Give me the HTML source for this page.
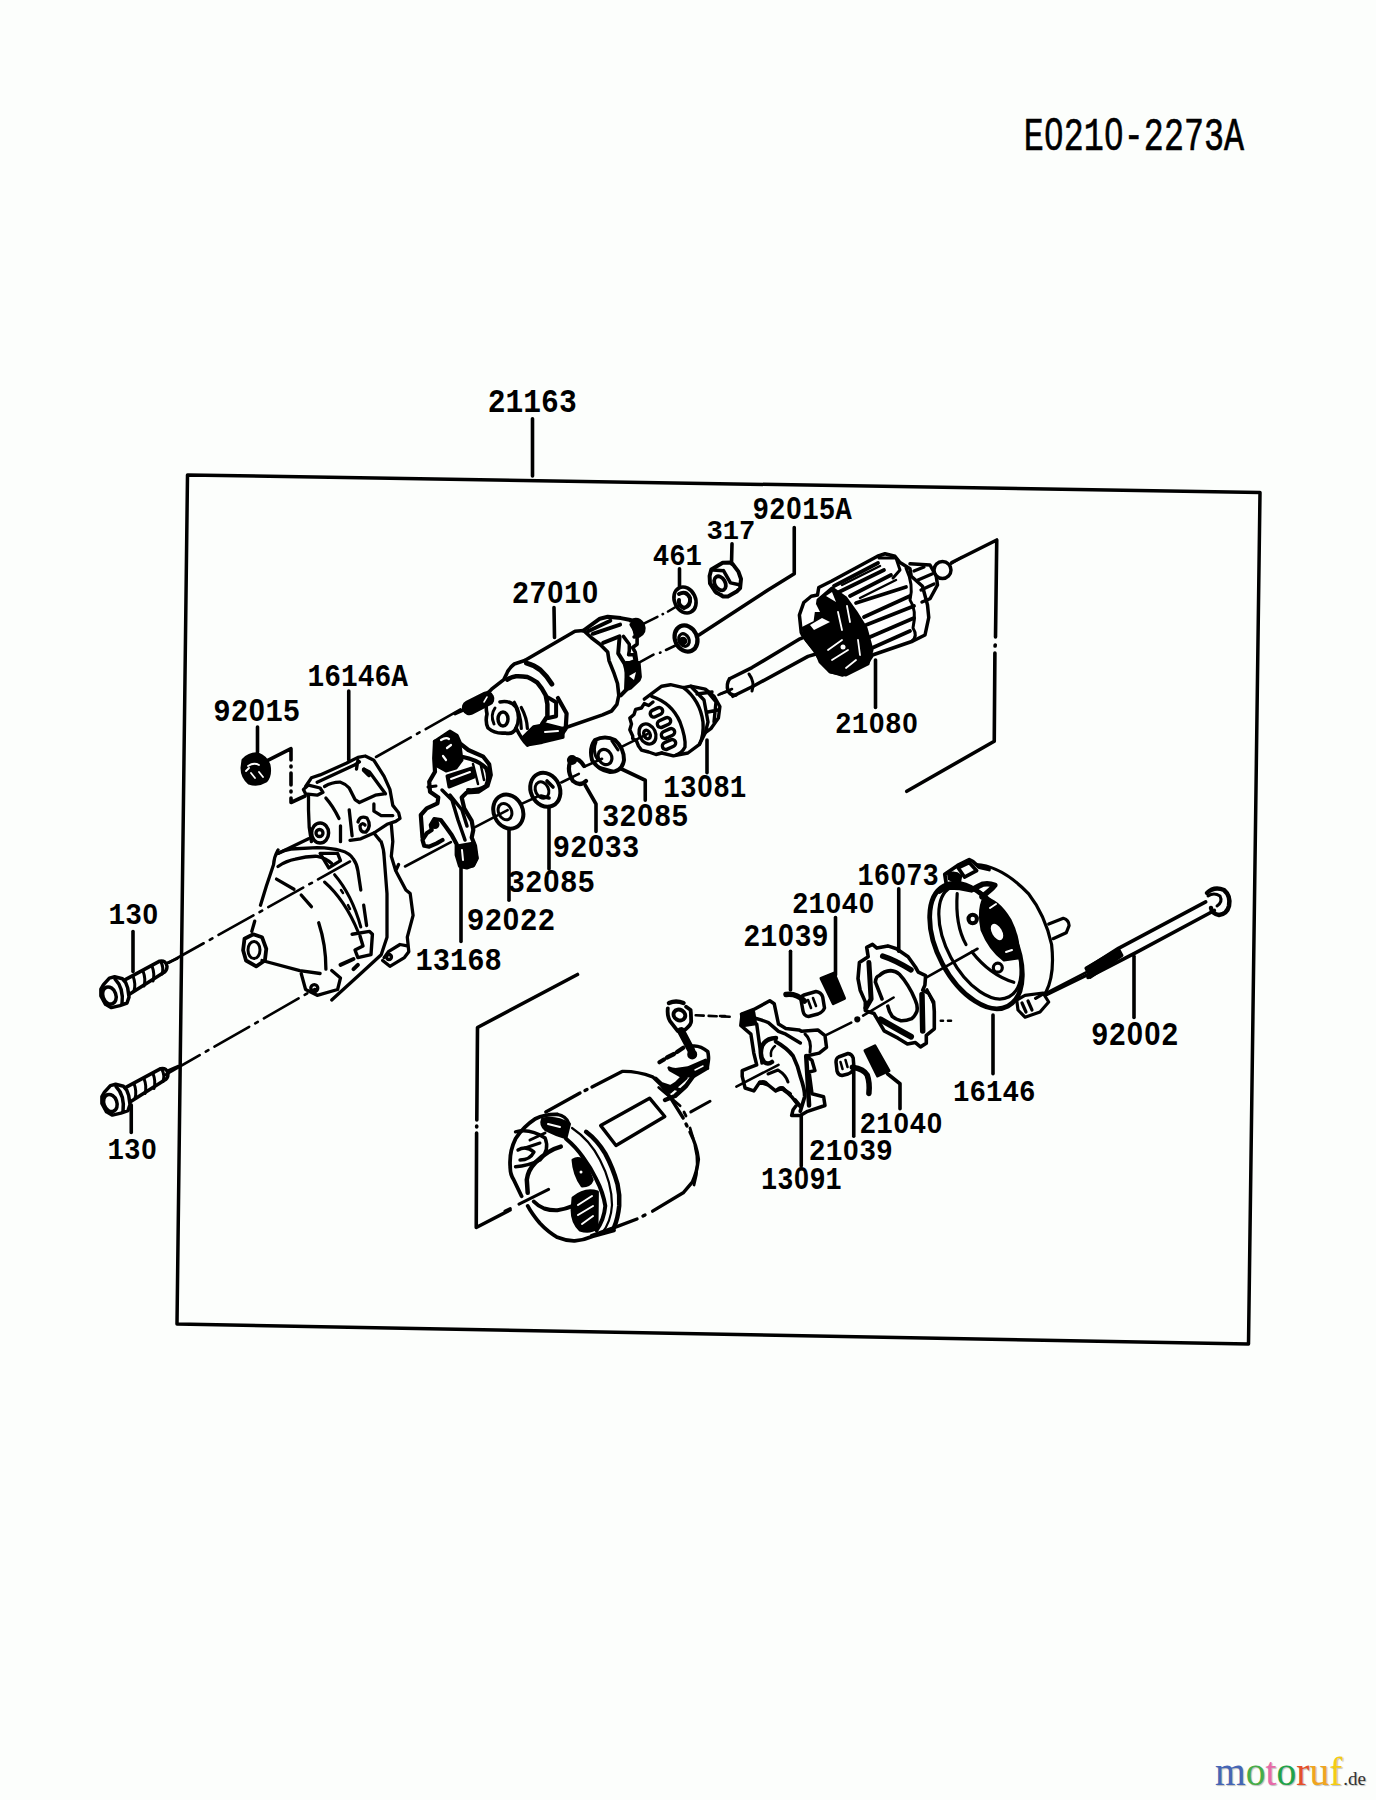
<!DOCTYPE html>
<html><head><meta charset="utf-8"><title>Starter parts diagram</title>
<style>
html,body{margin:0;padding:0;background:#fcfefc;width:1376px;height:1800px;overflow:hidden}
svg{position:absolute;left:0;top:0}
.l{font-family:"Liberation Mono",monospace;font-weight:bold;font-size:100px;fill:#000;stroke:none}
.h{font-family:"Liberation Mono",monospace;font-size:100px;fill:#000;stroke:#000;stroke-width:1.5}
.logo{position:absolute;left:1215px;top:1747px;font-family:"Liberation Serif",serif;font-size:39.5px;line-height:50px;white-space:nowrap;text-shadow:1px 1px 1px rgba(0,0,0,.25)}
.logo .de{font-size:19px;color:#333;margin-left:1px}
</style></head><body>
<svg width="1376" height="1800" viewBox="0 0 1376 1800">
<g fill="none" stroke="#000" stroke-width="3.6" stroke-linecap="round" stroke-linejoin="round">
<!-- frame -->
<path d="M187.5 475 L1260 492.5 L1248.5 1344 L177 1324 Z" stroke-width="3.5"/>
<!-- leaders -->
<path d="M532.5 418.75 V476"/>
<path d="M554 607.5 L554.5 637.5"/>
<path d="M679.5 568.75 V587.5"/>
<path d="M732 543.75 L731.5 563.75"/>
<path d="M794.25 527.5 V573.75 L768 590 L699 635"/>
<path d="M875.5 660 V707.5"/>
<path d="M348.75 691 V760"/>
<path d="M257.5 727 V752"/>
<path d="M707 740 V772.75"/>
<path d="M621.5 769 L645.25 780.25 V800.25"/>
<path d="M585.25 785.25 L596 804 V831.5"/>
<path d="M549 806.5 V869"/>
<path d="M509 829 V900.25"/>
<path d="M461 864 V941.5"/>
<path d="M133 931.5 V971.5"/>
<path d="M131.25 1105 V1132.5"/>
<path d="M898.75 888.75 V951.25"/>
<path d="M835.5 917.5 V975"/>
<path d="M790.5 951.25 V990"/>
<path d="M887.5 1073.75 L900 1083.75 V1108.75"/>
<path d="M853.75 1070 V1136.25"/>
<path d="M993 1015 V1073.75"/>
<path d="M801.25 1115 V1166"/>
<path d="M1134 956.3 V1017.5"/>
<!-- brackets -->
<path d="M951.75 562.5 L996.75 540 L995.5 637 M995.2 645 L995.1 646 M994.9 653 L994.25 741.25 L906.75 791.25"/>
<path d="M577.5 974.5 L477.5 1027.5 L476.8 1120 M476.7 1126 L476.7 1127 M476.6 1133 L476.25 1227.5 L510 1210"/>

<!-- ===== axis dash-dot lines ===== -->
<g stroke-width="2.6">
<path d="M168.75 962.75 L350 861.5" stroke-dasharray="40 7 3 7"/>
<path d="M165 1075 L315 989" stroke-dasharray="40 7 3 7"/>
<path d="M376 757 L466.5 706" stroke-dasharray="40 7 3 7"/>
<path d="M405 866.5 L450.9 842.1"/>
<path d="M474.1 827.6 L507.6 810.1 M522.1 803.6 L536.6 797 M561.3 782.5 L578.8 773.8 M584.6 766.5 L602 758.8 M621 747.2 L647.2 734.1"/>
<path d="M644.3 623.3 L657.4 616.8 M662.6 614.2 L663 614 M668 611.5 L679 605"/>
<path d="M640.4 661.9 L653.5 654.7 M660 652.7 L660.5 652.5 M666 650 L676.5 645"/>
<path d="M718.4 694.9 L730 690.5"/>
<path d="M951.25 563.75 L962 557"/>
<path d="M695.7 1015.3 L730.6 1016.8" stroke-dasharray="8 5"/>
<path d="M736.4 1086.6 L778.5 1064.8" />
<path d="M825 1035.7 L851.2 1022.6 M863.1 1015.7 L893.6 997.5 M927 977.2 L977.5 948.75"/>
<circle cx="857.3" cy="1019.3" r="1.8" fill="#000"/>
<path d="M940.8 1020.8 L943 1020.8 M948 1020.8 L951 1020.8"/>
<path d="M720 1016 L730 1016" stroke-dasharray="5 5"/>
<path d="M1047.3 992.4 L1086.5 972.1"/>
</g>

<!-- ===== 130 bolts ===== -->
<g id="bolt1" stroke-width="3.5">
<path d="M100.9 989.2 L103.5 984.7 L109.4 978.1 L114.6 976.8 L122.5 978.8 L125.7 982.7 L127.7 988 L129 997.1 L127 1003 L119.9 1005.6 L111.4 1007.6 L105.5 1004.3 L100.9 995.8 Z"/>
<ellipse cx="109.4" cy="995.5" rx="6.5" ry="8.8" transform="rotate(-20 109.4 995.5)"/>
<path d="M115 979 Q124 988 122 1004" />
<path d="M124.4 980.1 L159.7 961.1 Q166 960 167 966.4 Q167 971 163 973 L129 994.5"/>
<path d="M133 976 Q136 984 134 991 M143 971 Q146 979 144 986 M152 966 Q155 974 153 981 M161 962 Q164 968 162 974" stroke-width="3"/>
<path d="M167 963 L177.4 958.5" stroke-width="2.5"/>
</g>
<use href="#bolt1" transform="translate(1 107.5)"/>
<!-- ===== nut 92015 ===== -->
<g>
<path d="M243 760 Q250 753 258 754 Q266 757 269 765 Q271 775 266 781 Q258 786 249 783 Q242 777 242 768 Z" fill="#000" stroke-width="3"/>
<path d="M248 766 Q254 762 259 765 M251 773 L255 778 M259 772 L263 777 M246 771 L249 768" stroke="#fff" stroke-width="1.8"/>
<path d="M267.8 760.3 L291 748.7 L291 760 M291 766 L291 767 M291 773 L291 785 M291 791 L291 792 M291 798 L291 802.5 L305 796"/>
</g>

<!-- ===== housing 16146A ===== -->
<g id="housing" stroke-width="3.3">
<path d="M305.6 786.5 L311.4 777.8 L320.1 774.9 L346.3 763.3 L357.9 757.4 L365.2 756 L373.9 760.3 L384.1 776.3 L389.9 789.4 L392.8 805.4 L398.6 812.7 L400 818.5 L395.7 821.4 L387 824.3 L373.9 833 L360.8 838.8 L350 840.3"/>
<path d="M317.2 782.2 L355 764.7 L359.4 761.8 M357.9 760.3 L356.5 769.1"/>
<path d="M324.5 786.5 Q332 782 340.5 782.2 Q346 784 349.2 788 L355 799.6 L359.4 802.5 L375.3 795.2 L384.1 793.8"/>
<path d="M363.7 769.1 L369.5 772 L381.2 788 L385.5 793.8"/>
<path d="M364 770 L369 775" stroke-width="4.5"/>
<path d="M373.9 804 L373.9 811.2 L381.2 815.6 L392.8 815.6"/>
<path d="M303.4 789.4 L308.5 785.1 L320.1 788 L323 792.3 L317.2 795.2 L305.6 793.8 Z"/>
<path d="M308.5 795.2 L308.5 809.8 L309.2 827.2 L311.4 841.7"/>
<path d="M325.9 798.1 Q333 806 339 818.5 M340.5 825.8 L340.5 841.7"/>
<path d="M349.2 809.8 L352.1 835.9"/>
<ellipse cx="320.1" cy="833" rx="8.5" ry="10" stroke-width="3.5"/>
<circle cx="319.5" cy="833" r="3.5"/>
<path d="M358 822 Q360 815 367 818 Q372 826 366 832 Q360 833 360 826 Q362 822 365 825"/>
<path d="M308.5 838.8 L278 853.4"/>
<path d="M278 853.4 Q284 850 291 849 L317.2 847.6 Q332 848 340.5 850.5 Q350 853 353.5 859.2 Q357 864 357.9 870.8 L360.8 890"/>
<path d="M278 866.5 Q286 861 295.4 859.2 Q307 856 317.2 856.3 Q326 858 331.7 863.5"/>
<path d="M320.1 853.4 L337.6 853.4 L340.5 860.6 L328.8 867.9 Z"/>
<path d="M391.3 824.3 L392.8 841.7 L391.3 856.3 L395.7 870.8 L398.6 864.5 M395.7 870.8 L405.9 890 L410.2 893.6 L413.1 915.4 L407.3 937.2 L408.8 951.7 L404.4 957.6 L389.9 966.3 L382.6 960.5"/>
<path d="M373.9 833 Q381 842 381.2 841.7 Q384 850 384.1 856.3 L387 893.6 L387 937.2 L381.2 954.7 L360.8 973.5 L331.7 1000"/>
<path d="M278 850 Q274 857 273.6 864.5 L266.3 886.3 L260.5 905.2 M254.7 921.2 L251.8 931.4"/>
<path d="M244.5 938.7 L253.3 934.3 L262 937.2 L266.3 948.8 L264.9 960.5 L256.2 966.3 L246 960.5 L243.1 950.3 Z" stroke-width="3.8"/>
<ellipse cx="254" cy="950" rx="6" ry="8.5" stroke-width="3"/>
<path d="M262 960.5 L299.8 970.6 L320.1 973.5"/>
<path d="M276.5 879.1 L294 889.2 M301.2 895 L311.4 906.7 M318.7 922.7 Q326 945 325.9 969.2"/>
<path d="M324.5 882 Q345 900 357.9 931.4 M334.6 874.7 Q352 895 360.8 927" stroke-width="3"/>
<path d="M341 890 L343 893 M348 905 L350 909" stroke-width="2.5"/>
<path d="M352.1 934.3 L369.5 931.4 L372.4 934.3 L371 954.7 L357.9 957.6 L355 950 L363 946 L360 936" stroke-width="3.4"/>
<path d="M363.7 905.2 L366.6 925.6"/>
<path d="M384.1 957.6 L388.4 951.7 L400 944.5 L407.3 945.9"/>
<circle cx="389" cy="957" r="2.5"/>
<path d="M301.2 973.5 L305.6 989.5 L317.2 995.3 L337.6 989.5 L340.5 977.9 L331.7 970.6"/>
<circle cx="314.3" cy="988.1" r="3.5"/>
<path d="M340.5 964.8 L353.5 959 M353.5 969.2 L357.9 964.8" stroke-width="4"/>
</g>

<!-- ===== solenoid 27010 ===== -->
<g id="solenoid">
<path d="M524.7 660.5 L575 631.2 L583.5 630.5 L591.4 637.7 L599.9 644.2 L607.7 652.1 L609 660.6 L614.2 673.7 L617.5 683.5 L618.8 695.3 L616.9 704.4 L611.6 711 L602.5 714.9 L563.1 728.5"/>
<path d="M583.5 630.5 L599.9 618.7 L607.7 616.8 L620.8 618.1 L630.6 620" stroke-width="4"/>
<path d="M630.6 621 Q638 617 643 624 Q646 632 639 636 L634 637" fill="#000" stroke-width="3.5"/>
<path d="M588.1 631.2 L610.3 620.7 M592.7 633.8 L620.1 624.6 M603.1 642.9 L619.5 636.4" stroke-width="4"/>
<path d="M619.5 637.7 L618.2 653.4 L624.7 663.9 L627.3 673.7 L626 690 L620.8 695.3" stroke-width="4"/>
<path d="M623.4 636.4 L629.3 644.2 L629.3 650.8 L628.6 654.7 L633.9 654.7 L635.2 660.6 L626.7 663.9" stroke-width="3.5"/>
<path d="M631.2 624.6 L637.1 634.4 L637.1 644.2 L632.6 647.5 L635.2 652.1 L636.5 660.6"/>
<path d="M626 662.6 L639.1 662.6 L640.4 677 L639.1 680.2 L630.6 688.1 L626 690 Z" fill="#000" stroke-width="3"/>
<path d="M629 676 L636 672 L634 680 Z" fill="#fff" stroke="none"/>
<path d="M524.7 660.5 L514.3 664 Q508 669 506.4 674.4 L503.8 679.6 L491.6 689.2 L488.1 692.7"/>
<path d="M526.5 663.1 Q534 665 540.4 670 Q547 676 551.8 684" stroke-width="5"/>
<path d="M507.3 679.6 Q511 677 516 676.2 Q522 676 527.4 677 Q532 679 537 682.3 Q542 688 545.7 695.3 L547.4 704.1 L547.4 716.3 L542.2 724.1" stroke-width="4.5"/>
<path d="M547.4 697.1 L556.1 702.3 L556.1 716.3 L548.3 718" stroke-width="4"/>
<path d="M557.9 698 L566.6 713.6 L565.7 728.5 L562.2 733.7" stroke-width="4.2"/>
<path d="M523 737.2 L533.5 726.7 L546.5 724.1 L563.1 728.5 L563.1 737.2 L542.2 742.4 L527.4 745 Z" fill="#000" stroke-width="3"/>
<path d="M545 732 L558 731" stroke="#fff" stroke-width="2"/>
<path d="M488.1 692.7 Q485 705 487 714 Q485 722 488 728 Q495 734 505 733 Q513 735 516 728 Q521 718 516 707 Q510 700 500 702"/>
<ellipse cx="503" cy="719" rx="5" ry="7" stroke-width="3.5"/>
<path d="M495 708 Q490 715 494 724" stroke-width="3"/>
<path d="M514.3 702.3 Q521 714 521.3 728.5 M521.3 707.5 Q527 718 527.4 728.5" stroke-width="3.2"/>
<path d="M516 728 Q522 740 527.4 745" />
<rect x="462" y="697" width="32" height="12.5" rx="6" transform="rotate(-27 478 703)" fill="#000" stroke-width="2.5"/>
<path d="M484 702 L487 697" stroke="#fff" stroke-width="1.5"/>
<path d="M455 713.6 L464.6 709.3"/>
</g>

<!-- ===== 461 washer, 317 nut, 92015A nut ===== -->
<g>
<ellipse cx="685" cy="600" rx="10.5" ry="13.5" transform="rotate(-25 685 600)" stroke-width="3.6"/>
<path d="M679 594 Q686 590 690 598 Q691 606 684 608 Q678 606 679 600" stroke-width="4"/>
<circle cx="684" cy="601" r="2.2" fill="#fff" stroke="none"/>
<path d="M711.3 569.4 L722.7 562.8 L730.5 562.4 L733.1 564.6 L738.4 571.6 L741 579 L740.1 588.1 L737.1 591.2 L727.9 596.4 L722.7 596.4 L715.3 591.6 L710 583.3 L709.6 575.9 Z" stroke-width="4"/>
<path d="M723.5 570.7 L730.5 582.9 L739.3 584.7 M713 570 L723.5 570.7" stroke-width="3.5"/>
<ellipse cx="720" cy="583.3" rx="5.2" ry="7.5" transform="rotate(-30 720 583.3)" stroke-width="3.8"/>
<path d="M716 593 L722 595" stroke-width="3"/>
<ellipse cx="686" cy="638.5" rx="11" ry="13.5" transform="rotate(-25 686 638.5)" stroke-width="4.2"/>
<ellipse cx="684" cy="640" rx="5" ry="6.5" transform="rotate(-25 684 640)" stroke-width="3.2"/>
<circle cx="683" cy="641" r="2.5" fill="#000"/>
</g>

<!-- ===== pinion 13081 ===== -->
<g id="pinion" stroke-width="3.4">
<path d="M644.3 699.2 L661.7 686.2 L670.5 684.7 L683.5 687.6 L690.8 686.2 L705.3 689.1 L714.1 696.3 L719.9 706.5 L718.4 718.1 L711.2 728.3 L705.3 732.7 L699.5 744.3 L687.9 753 L673.4 755.9 L661.7 753"/>
<path d="M653 702 L648.7 705.5 L644.3 703.6 L641.4 708 L635.6 709.4 L634 714.5 L629.8 718.1 L631.5 724 L629.8 729.8 L632.7 736 L632.7 738.5 L636.5 741 L638.5 746 L641.4 750.1 L648.7 752 L655.9 754.5 L661.7 753"/>
<path d="M651.6 696.3 Q672 703 680 722 Q686 738 685 747 Q682 753 676 755"/>
<path d="M683.5 687.6 Q700 700 703 722 Q704 735 699.5 744.3"/>
<path d="M690.8 686.2 L704 700 L708 722 L705.3 732.7 M706 690 L716 702 L714 722 M697 694 L712 692 M708 712 L718 710"/>
<rect x="650" y="709" width="13" height="7" rx="3.5" transform="rotate(-25 656 712.5)"/>
<rect x="657" y="719" width="14" height="7" rx="3.5" transform="rotate(-25 664 722.5)"/>
<rect x="661" y="730" width="14" height="7" rx="3.5" transform="rotate(-25 668 733.5)"/>
<rect x="662" y="741" width="14" height="7" rx="3.5" transform="rotate(-25 669 744.5)"/>
<ellipse cx="647.5" cy="734" rx="8" ry="10.5" transform="rotate(-25 647.5 734)"/>
<ellipse cx="647" cy="734.5" rx="3" ry="4.5" transform="rotate(-25 647 734.5)"/>
</g>
<!-- armature shaft end -->
<g stroke-width="3.5">
<path d="M729.6 678.8 L752 667.6 L800 638.8 L808 635.6 L820 635.6"/>
<path d="M732.8 696.3 L753.6 686 L808 656.4 L816 654"/>
<path d="M729.6 678.8 Q726 684 728 691 Q731 696 736 695"/>
<path d="M749 674 Q755 682 752 691" stroke-width="3"/>
<path d="M720 694 L732 689" stroke-width="2.6"/>
</g>

<!-- ===== washers ===== -->
<g>
<path d="M595 740 Q605 735 615 740 Q624 748 624 760 Q622 772 610 772 Q598 770 592 760 Q589 748 595 740 Z" stroke-width="4"/>
<ellipse cx="605" cy="757" rx="6.5" ry="8" transform="rotate(-30 605 757)" stroke-width="3.2"/>
<path d="M596 742 Q592 752 598 760 M612 741 L618 750 M598 767 L612 771" stroke-width="3"/>
<path d="M584 766 Q578 756 571 760 Q566 770 573 781 Q580 787 586 781" stroke-width="4.2"/>
<circle cx="572" cy="760" r="3.3" fill="#000"/>
<ellipse cx="545.3" cy="789.8" rx="14.5" ry="17.5" transform="rotate(-25 545.3 789.8)" stroke-width="4"/>
<ellipse cx="542" cy="790" rx="6.5" ry="8.5" transform="rotate(-25 542 790)" stroke-width="3"/>
<path d="M547 781 L553 787 M541 796 L549 798"/>
<ellipse cx="508.3" cy="811.6" rx="14.5" ry="17.5" transform="rotate(-25 508.3 811.6)" stroke-width="4"/>
<ellipse cx="505" cy="811.6" rx="6.5" ry="8.5" transform="rotate(-25 505 811.6)" stroke-width="3"/>
</g>

<!-- ===== lever 13168 ===== -->
<g id="lever" stroke-width="4">
<path d="M435 741.7 L450 731.7 L456.7 735.8 L460 743.3 L468.3 750 L483.3 756.7 L489.2 764.2 L490.8 775 L487.5 785.8 L478.3 791.7 L466.7 792.5 L461.7 797.5 L464.2 808.3 L471.7 820.8 L473.3 830 L471.7 837.5 L475 845.8 L476.7 858.3 L473.3 865 L466.7 867.5 L460 865.8 L456.7 855 L456.7 844.2 L451.7 835 L445.8 826.7 L440.8 820 L434.2 819.2 L430.8 825 L431.7 830 L426.7 833.3 L422.5 840 L424.2 845.8 L429.2 846.7 L436.7 843.3 L442.5 840" stroke-width="4.2"/>
<path d="M422.5 837.5 L420.8 815 L426.7 808.3 L437.5 803.3 L438.3 797.5 L430 791.7 L429.2 781.7 L435 771.7 L434.2 758.3 L435 741.7" stroke-width="4.2"/>
<path d="M436 742 L450 733 L457 737 L460 745 L462 760 L456 768 L446 771 L437 766 Z" fill="#000" stroke-width="3"/>
<path d="M441 740 Q446 737 449 739 M447 748 L451 745 M443 756 L446 760" stroke="#fff" stroke-width="2.2"/>
<path d="M463 757 Q478 760 486 768 Q490 778 486 786 Q478 791 468 790" stroke-width="4"/>
<path d="M473 764 L478 784 M481 766 L484 780" stroke-width="2.5"/>
<path d="M447 776 L472 768 L474 777 L449 787 Z" fill="#000" stroke-width="3"/>
<path d="M451 779 L470 772" stroke="#fff" stroke-width="2"/>
<path d="M442 790 L452 800 L458 820 L465 840 M450 795 L462 810 L467 826" stroke-width="3.5"/>
<path d="M457 846 L474 843 L477 858 L473 866 L462 867 L457 856 Z" fill="#000" stroke-width="3"/>
<path d="M462 850 L463 860" stroke="#fff" stroke-width="2"/>
<circle cx="435" cy="824.5" r="2.5" fill="#000"/>
<path d="M428 787 L436 786" stroke-width="3"/>
</g>

<!-- ===== armature 21080 ===== -->
<g id="armature" stroke-width="3.5">
<path d="M801.25 632.5 L799.4 615 L803.75 602.5 L811.25 596.25 L817.5 595 L818.75 587.5 L831.25 581.25 L877.5 556.25 L885 553.75 L895 556.25 L900 562.5 L910 568.75 L911.25 576.25 L922.5 586.25 L927.5 605 L928.75 617.5 L925 635 L912.5 641.25 L872.5 655 L867.5 662.5 L842.5 675 L830 671.25 L818.75 657.5 L815 651.25 L802.5 635 Z" fill="#fff"/>
<path d="M834 586 L878 563 M839 592 L884 570 M850 596 L891 575 M856 603 L906 587 M864 617 L910 596 M866 625 L914 606 M870 637 L914 618 M872 648 L910 631" stroke-width="3.8"/>
<path d="M842 585 L880 566 M860 598 L896 580" stroke-width="2.5"/>
<path d="M818 600 L832 588 L846 598 L856 612 L866 628 L872 650 L868 664 L846 675 L830 672 L820 662 L816 652 L806 640 L803 628 L815 622 Z" fill="#000" stroke-width="3"/>
<path d="M806 612 L816 604 L820 612 Z M810 625 L822 618 L830 622 L814 630 Z M826 596 L832 592 L836 602 Z" fill="#fff" stroke="none"/>
<path d="M838 612 L842 630 M847 606 L850 622 M828 650 L842 640 M832 660 L848 650 M846 668 L856 660 M858 640 L860 655" stroke="#fff" stroke-width="1.8"/>
<circle cx="843" cy="647" r="2.5" fill="#fff" stroke="none"/>
<path d="M879 558 L896 558 L900 570 L893 578" stroke-width="3"/>
<path d="M906 568 Q914 585 910 600 Q917 610 913 628 Q918 636 912 641" stroke-width="3"/>
<path d="M910 563.75 L930 565 L936.25 576.25 L937.5 585 L930 598.75 L922 602"/>
<path d="M914 571 L924 567 M918 580 L932 574 M921 590 L934 584" stroke-width="3.2"/>
<circle cx="942.5" cy="570" r="8.5"/>
</g>

<!-- ===== field coil (yoke) ===== -->
<g id="yoke" stroke-width="3.4">
<path d="M545.8 1111.9 L580 1093 M585 1090.5 L587 1089.5 M592 1087 L622.1 1071.4 Q637 1071 652.6 1076.8 Q662 1085 667.9 1093.6 L683.2 1118 M686 1124 L687 1126 M690 1132 Q697 1146 698.4 1159.2 Q697 1172 692.3 1182.1 L683.2 1192.8 L652.6 1211.1 M645 1215 L643 1216 M637 1219 L617.5 1226.4 L591.6 1235.5"/>
<path d="M658.7 1087.5 L680.1 1105.8 M684 1112 L686 1116 M690 1128 L693 1138 M695 1146 Q700 1165 694 1185" stroke-width="2.8"/>
<path d="M557.3 1114.4 Q545 1114 535.5 1118.7 Q523 1127 515.5 1138.8 Q509 1152 510.2 1166.7 Q510 1174 513.7 1179.7 L521.6 1196.3 M527.7 1205.9 Q532 1214 539.9 1223.3 Q548 1232 557.3 1237.3 Q566 1241 574.7 1240.8 Q584 1240 592.2 1236.4 L614 1230.3" stroke-width="3.8"/>
<path d="M557.3 1114.4 Q566 1116 568.6 1123.1"/>
<path d="M566 1138.8 Q576 1147 583.5 1158 Q591 1168 596.5 1179.7 Q603 1192 605.3 1205.9 Q604 1220 596.5 1230.3" stroke-width="4"/>
<path d="M572 1128 Q590 1140 600 1160 Q612 1183 612 1205 Q611 1222 602 1233" stroke-width="2.2"/>
<path d="M586.1 1131.8 Q597 1140 605.3 1153.6 Q613 1168 617.5 1184.1 Q620 1195 619.2 1205.9 Q618 1218 614 1227.7" stroke-width="4.5"/>
<path d="M542.5 1119 Q556 1116 569.5 1124 L566 1137.9 Q556 1135 546 1130 Q540 1125 542.5 1119 Z" fill="#000" stroke-width="3"/>
<path d="M548 1124 L560 1127" stroke="#fff" stroke-width="2"/>
<path d="M515.5 1131.8 Q530 1128 545.1 1138 Q550 1150 540 1160 Q528 1166 515.5 1166.7 M518 1150 Q526 1145 534 1152 Q530 1160 520 1160"/>
<path d="M530 1140 L545 1133 M525 1148 L540 1143" stroke-width="3"/>
<path d="M560.8 1146.6 Q548 1150 535.5 1162.3 Q528 1170 526.8 1179.7 L527.7 1192.8" stroke-width="4.5"/>
<path d="M533.8 1201.5 Q538 1206 544.2 1208.5 Q550 1210.5 557.3 1210.3 Q566 1209 573 1205.9 Q579 1202 583.5 1197.2" stroke-width="4"/>
<path d="M573 1160 Q580 1156 586 1164 L592.2 1180 Q590 1186 582 1185.9 Q574 1175 573 1160 Z" fill="#000" stroke-width="3"/>
<circle cx="581" cy="1172" r="1.5" fill="#fff" stroke="none"/>
<path d="M573 1198 Q585 1188 597.4 1192 L597 1228 Q590 1233 580 1230 Q572 1222 572.1 1210 Z" fill="#000" stroke-width="3"/>
<path d="M578 1205 L592 1196 M578 1215 L593 1206 M582 1224 L593 1216" stroke="#fff" stroke-width="2"/>
<path d="M519 1204.2 L548.6 1189.3 M505 1211.1 L510.2 1208.5" stroke-width="3"/>
<path d="M600.7 1125.6 L649.6 1098.2 L664.8 1116.5 L616 1145.5 Z"/>
<path d="M655.7 1078.3 L670 1092 L686 1078 M662 1084 L680 1090" stroke-width="3.5"/>
<path d="M690.8 1111.9 L710 1101.2" stroke-width="3"/>
</g>

<!-- ===== terminal lead ===== -->
<g>
<path d="M669 1003 Q676 1000 683.5 1003" stroke-width="4.5"/>
<path d="M667.8 1008.3 Q667 1016 670 1021.1 L677.8 1031.1 Q684 1031 686.1 1028.9 Q692 1024 691.1 1020 Q691 1013 690.6 1010 L686.1 1006.7" stroke-width="3.8"/>
<ellipse cx="679.4" cy="1015" rx="6" ry="5.2" transform="rotate(30 679.4 1015)" stroke-width="4"/>
<path d="M681.1 1031.1 L691.1 1050" stroke-width="8"/>
<path d="M692.2 1046.1 Q700 1045 707.8 1051.7 Q709 1058 708.3 1061.1 L707.2 1068.3"/>
<path d="M659.4 1062.2 L664 1059.5 M667 1057.5 L674 1054 M677 1052 L683.3 1047.8" stroke-width="4.2"/>
<path d="M668.9 1067.8 Q672 1069 675.6 1069.4 L687.8 1067.8 L705.6 1060 L707.8 1068.3 L694.4 1076.1 L681.1 1076.1 L670 1070 Z" fill="#000" stroke-width="3"/>
<path d="M695 1070 L703 1066" stroke="#fff" stroke-width="1.5"/>
<circle cx="692.2" cy="1054.4" r="3.2" fill="#000"/>
<path d="M694 1075 L686 1086 L675 1096 L665 1100 M684 1076 L676 1084 L668 1089" stroke-width="4.5"/>
</g>

<!-- ===== brush holder 13091 ===== -->
<g id="bholder" stroke-width="3.5">
<path d="M742.2 1013.9 L753.8 1009.5 L769.8 1000.8 L774.2 1003.7 L778.5 1024.1 L785.8 1028.4 L798.9 1029.9 L801.8 1031.3 L817.8 1029.9 L825 1035.7 L826.5 1047.3 L819.2 1053.1 L806.2 1056 L812 1060.4 L814.9 1070.6 L809.1 1072 L812 1093.8 L823.6 1096.7 L825 1105.5 L807.6 1111.3 L800.3 1115.6 L791.6 1115.6 L793.1 1109.8 L797.4 1104 L791.6 1096.7 L782.9 1088 L775.6 1090.9 L768.4 1085.1 L759.7 1082.2 L753.8 1090.9 L745.1 1088 L742.2 1076.4 L742.2 1070.6 L749.5 1067.7 L756.7 1064.8 L753.8 1053.1 L750.9 1034.2 L740.8 1025.5 Z"/>
<path d="M741 1014 L754 1012 L756 1024 L743 1026 Z" fill="#000" stroke-width="2.5"/>
<path d="M755.3 1018.3 Q762 1020 768.4 1022.6 L778.5 1031.3 L785.8 1034.2 L800.3 1043"/>
<path d="M756.7 1024.1 L762 1063"/>
<path d="M776 1038 Q766 1038 762 1046 Q759 1056 764 1062 Q768 1065 772 1062" stroke-width="4.5"/>
<path d="M775 1046 Q770 1050 771 1056" stroke-width="2.5"/>
<path d="M775.6 1041.5 Q787 1048 793.1 1056 Q798 1066 800.3 1076.4 Q805 1090 804.7 1096.7 L800.3 1111.3" stroke-width="3.8"/>
<path d="M806.2 1056 L809.1 1105.5" stroke-width="4.5"/>
<path d="M759.7 1082.2 Q765 1080 768.4 1085.1 M775.6 1090.9 Q780 1086 782.9 1088" stroke-width="3"/>
<path d="M805 1034 Q812 1040 810 1052" stroke-width="3"/>
<path d="M768 1074 L778 1070 Q786 1075 788 1082" stroke-width="3"/>
<path d="M784 1090 L790 1094 M795 1100 L800 1106" stroke-width="4"/>
</g>

<!-- ===== brushes & springs ===== -->
<g>
<path d="M786 994.5 Q796 993 804.4 1001" stroke-width="5.5"/>
<path d="M804 995 L816 991.5 Q821 992 822.7 997 L824.5 1008 Q823 1012 818 1014 L808.5 1016.5 Q804 1016 803 1011 L801 1000 Q801 996 804 995 Z" stroke-width="3.5"/>
<path d="M808 1000 L811 1008 M813 998 L816 1006" stroke-width="2.6"/>
<path d="M821 978.3 L834 973.1 L844.5 998.4 L833.2 1003.6 Z" fill="#000" stroke-width="3"/>
<path d="M838.5 1057 L848 1053.5 Q852 1054 853.2 1058 L854 1068 Q853 1072 848 1074 L842 1075.5 Q838 1075 837 1071 L836 1062 Q836 1058 838.5 1057 Z" stroke-width="3.5"/>
<path d="M840.5 1062 L842.5 1069 M845.5 1060 L847.5 1067" stroke-width="2.6"/>
<path d="M852.4 1067.2 Q864 1069 867.2 1075 Q870 1083 868.9 1093.4" stroke-width="5.5"/>
<path d="M865 1050.7 L875 1045.9 L889 1070.7 L877.6 1076 Z" fill="#000" stroke-width="3"/>
</g>

<!-- ===== brush plate 16073 ===== -->
<g id="plate" stroke-width="3.6">
<path d="M866.7 947.4 L872.5 944.4 L876.9 948.1 L887.8 945.9 L896.5 948.8 L908.1 956.8 L915.4 967 L918.3 972.1 L925.6 975.7 L924.9 985.1 L922.7 990.2 L928.5 993.1 L933.6 1001.9 L934.3 1011.3 L934.3 1028.8 L926.3 1035.3 L926.3 1043.3 L920.5 1046.9 L915.4 1042.6 L907.4 1044 L898 1038.2 L884.2 1030.9 L879.1 1022.2 L874 1013.5 L865.3 1010.6 L865.3 1001.9 L860.2 990.2 L858 978.6 L859.4 962.6 L868.2 956.8 Z"/>
<path d="M875.4 982.2 Q876 976 879.1 975.7 Q884 971 890.7 970.6 Q896 971 899.4 974.2 Q904 979 908.1 985.9 Q912 992 915.4 1000.4 Q918 1006 916.9 1011.3 Q915 1016 911.8 1018.6 Q906 1021 900.9 1020.8 Q895 1019 892.2 1016.4 Q889 1012 887.8 1006.2 M875.4 982.2 L882 999"/>
<path d="M882.7 956.1 Q895 960 911 969.9" stroke-width="5.5"/>
<path d="M868.9 962.6 L871.1 999 L866 1007.7" stroke-width="5"/>
<path d="M922 994.6 L922.7 1030.9" stroke-width="5.5"/>
<path d="M880.5 1019.3 Q892 1026 911 1036.7" stroke-width="6"/>
<path d="M927 989.5 L933.6 1004" stroke-width="3"/>
</g>

<!-- ===== rear cover 16146 ===== -->
<g id="cover" stroke-width="3.2">
<ellipse cx="976" cy="946" rx="38" ry="68" transform="rotate(-28 976 946)" stroke-width="4.8"/>
<ellipse cx="980" cy="942" rx="33" ry="62" transform="rotate(-28 980 942)"/>
<path d="M976 864.5 Q1002 866 1028.4 893.6 Q1045 915 1051.6 944.5 Q1055 975 1045.8 992.4 L1035.6 998.3"/>
<path d="M946.5 885.2 L944.8 874.2 L957.6 865.5 L969.2 859.7 L972.7 861.4 L979.1 867.2 L989 869.5" stroke-width="3.8"/>
<path d="M958.1 867.8 L969.2 862.6 L976.7 870.7 L964.5 877.1 Z" stroke-width="3.6"/>
<path d="M948.3 874 Q955 871 961 876 L960 881.2 Q953 882 949 879 Z" fill="#000" stroke-width="2.5"/>
<path d="M939.5 891 Q944 888 948.3 887 Q954 887 959.9 887.6 L971.5 889.9 Q977 887 983.1 884.1 Q989 883 994.8 885.2 Q992 889 989 891 L982 896.9" stroke-width="5.5"/>
<path d="M1016.7 1000 L1025 995.3 L1043 993 L1048.7 1002 L1040 1012 L1025 1017.2 L1018 1010 Z"/>
<path d="M1022 1003 L1026 1012 M1028 1001 L1032 1010"/>
<path d="M1048.7 924.1 L1063.3 918.3 Q1069 920 1069.1 925.6 L1066.2 932.8 L1053.1 938.7"/>
<path d="M984 898 Q998 900 1010 920 Q1020 940 1018 958 L1004 960 Q990 950 982 930 Q978 910 984 898 Z" fill="#000" stroke-width="3"/>
<ellipse cx="997" cy="932" rx="5" ry="9" transform="rotate(-30 997 932)" fill="#fff" stroke="none"/>
<path d="M990 908 L996 904 M1006 952 L1012 950" stroke="#fff" stroke-width="2"/>
<path d="M1005 955 Q1012 962 1018 955" />
<circle cx="972.7" cy="919" r="4.2" stroke-width="4"/>
<circle cx="997.8" cy="967.7" r="4.5"/>
<path d="M957.2 893.6 Q955 925 966 944.5 M972 952 Q990 975 1013.8 982.3"/>

</g>

<!-- ===== through bolt 92002 ===== -->
<g>
<path d="M1207 893 Q1214 886 1224 890 Q1231 896 1229 906 Q1227 914 1219 915 Q1212 914 1211 908" stroke-width="4.5"/>
<path d="M1208 896 Q1214 892 1220 896 Q1223 902 1217 906" stroke-width="3"/>
<path d="M1205.7 901.8 L1118.5 948.3 L1086.5 968.7 M1214.4 910.5 L1135.9 952.7 L1088 977.4"/>
<path d="M1086 968 L1118.5 949 L1122 955.5 L1090 977.5 Z" fill="#000" stroke-width="3"/>
<path d="M1088 974.5 L1045.8 994.8"/>
</g>

</g>
<text class="h" transform="matrix(0.33364 0 0 0.45714 1023.76 150.09)"><tspan x="0">E</tspan><tspan x="62.2" font-family="Liberation Sans">0</tspan><tspan x="120">2</tspan><tspan x="180">1</tspan><tspan x="242.2" font-family="Liberation Sans">0</tspan><tspan x="300">-</tspan><tspan x="360">2</tspan><tspan x="420">2</tspan><tspan x="480">7</tspan><tspan x="540">3</tspan><tspan x="600">A</tspan></text>
<text class="l" transform="matrix(0.29671 0 0 0.32353 487.72 411.68)"><tspan x="0">2</tspan><tspan x="60">1</tspan><tspan x="120">1</tspan><tspan x="180">6</tspan><tspan x="240">3</tspan></text>
<text class="l" transform="matrix(0.28993 0 0 0.30882 511.76 602.69)"><tspan x="0">2</tspan><tspan x="60">7</tspan><tspan x="122.2" font-family="Liberation Sans">0</tspan><tspan x="180">1</tspan><tspan x="242.2" font-family="Liberation Sans">0</tspan></text>
<text class="l" transform="matrix(0.27457 0 0 0.30147 652.68 565.20)"><tspan x="0">4</tspan><tspan x="60">6</tspan><tspan x="120">1</tspan></text>
<text class="l" transform="matrix(0.27232 0 0 0.26838 706.39 538.98)"><tspan x="0">3</tspan><tspan x="60">1</tspan><tspan x="120">7</tspan></text>
<text class="l" transform="matrix(0.27599 0 0 0.32206 752.54 519.18)"><tspan x="0">9</tspan><tspan x="60">2</tspan><tspan x="122.2" font-family="Liberation Sans">0</tspan><tspan x="180">1</tspan><tspan x="240">5</tspan><tspan x="300">A</tspan></text>
<text class="l" transform="matrix(0.27778 0 0 0.29412 835.08 733.46)"><tspan x="0">2</tspan><tspan x="60">1</tspan><tspan x="122.2" font-family="Liberation Sans">0</tspan><tspan x="180">8</tspan><tspan x="242.2" font-family="Liberation Sans">0</tspan></text>
<text class="l" transform="matrix(0.27904 0 0 0.30882 307.55 685.69)"><tspan x="0">1</tspan><tspan x="60">6</tspan><tspan x="120">1</tspan><tspan x="180">4</tspan><tspan x="240">6</tspan><tspan x="300">A</tspan></text>
<text class="l" transform="matrix(0.28979 0 0 0.30882 213.26 720.69)"><tspan x="0">9</tspan><tspan x="60">2</tspan><tspan x="122.2" font-family="Liberation Sans">0</tspan><tspan x="180">1</tspan><tspan x="240">5</tspan></text>
<text class="l" transform="matrix(0.27682 0 0 0.31250 663.31 797.44)"><tspan x="0">1</tspan><tspan x="60">3</tspan><tspan x="122.2" font-family="Liberation Sans">0</tspan><tspan x="180">8</tspan><tspan x="240">1</tspan></text>
<text class="l" transform="matrix(0.28793 0 0 0.31618 602.06 826.18)"><tspan x="0">3</tspan><tspan x="60">2</tspan><tspan x="122.2" font-family="Liberation Sans">0</tspan><tspan x="180">8</tspan><tspan x="240">5</tspan></text>
<text class="l" transform="matrix(0.28806 0 0 0.31250 552.77 857.44)"><tspan x="0">9</tspan><tspan x="60">2</tspan><tspan x="122.2" font-family="Liberation Sans">0</tspan><tspan x="180">3</tspan><tspan x="240">3</tspan></text>
<text class="l" transform="matrix(0.29138 0 0 0.31250 507.54 892.44)"><tspan x="0">3</tspan><tspan x="60">2</tspan><tspan x="122.2" font-family="Liberation Sans">0</tspan><tspan x="180">8</tspan><tspan x="240">5</tspan></text>
<text class="l" transform="matrix(0.29514 0 0 0.31250 466.73 929.94)"><tspan x="0">9</tspan><tspan x="60">2</tspan><tspan x="122.2" font-family="Liberation Sans">0</tspan><tspan x="180">2</tspan><tspan x="240">2</tspan></text>
<text class="l" transform="matrix(0.28785 0 0 0.32059 415.39 970.18)"><tspan x="0">1</tspan><tspan x="60">3</tspan><tspan x="120">1</tspan><tspan x="180">6</tspan><tspan x="240">8</tspan></text>
<text class="l" transform="matrix(0.27844 0 0 0.30147 108.55 923.70)"><tspan x="0">1</tspan><tspan x="60">3</tspan><tspan x="122.2" font-family="Liberation Sans">0</tspan></text>
<text class="l" transform="matrix(0.27545 0 0 0.30147 107.57 1158.95)"><tspan x="0">1</tspan><tspan x="60">3</tspan><tspan x="122.2" font-family="Liberation Sans">0</tspan></text>
<text class="l" transform="matrix(0.27083 0 0 0.31250 857.60 884.69)"><tspan x="0">1</tspan><tspan x="60">6</tspan><tspan x="122.2" font-family="Liberation Sans">0</tspan><tspan x="180">7</tspan><tspan x="240">3</tspan></text>
<text class="l" transform="matrix(0.27517 0 0 0.30147 792.10 912.70)"><tspan x="0">2</tspan><tspan x="60">1</tspan><tspan x="122.2" font-family="Liberation Sans">0</tspan><tspan x="180">4</tspan><tspan x="242.2" font-family="Liberation Sans">0</tspan></text>
<text class="l" transform="matrix(0.28472 0 0 0.31250 743.29 945.94)"><tspan x="0">2</tspan><tspan x="60">1</tspan><tspan x="122.2" font-family="Liberation Sans">0</tspan><tspan x="180">3</tspan><tspan x="240">9</tspan></text>
<text class="l" transform="matrix(0.27778 0 0 0.30147 859.58 1132.70)"><tspan x="0">2</tspan><tspan x="60">1</tspan><tspan x="122.2" font-family="Liberation Sans">0</tspan><tspan x="180">4</tspan><tspan x="242.2" font-family="Liberation Sans">0</tspan></text>
<text class="l" transform="matrix(0.28038 0 0 0.30147 808.82 1160.20)"><tspan x="0">2</tspan><tspan x="60">1</tspan><tspan x="122.2" font-family="Liberation Sans">0</tspan><tspan x="180">3</tspan><tspan x="240">9</tspan></text>
<text class="l" transform="matrix(0.27439 0 0 0.29412 953.08 1100.96)"><tspan x="0">1</tspan><tspan x="60">6</tspan><tspan x="120">1</tspan><tspan x="180">4</tspan><tspan x="240">6</tspan></text>
<text class="l" transform="matrix(0.26920 0 0 0.32206 761.02 1189.38)"><tspan x="0">1</tspan><tspan x="60">3</tspan><tspan x="122.2" font-family="Liberation Sans">0</tspan><tspan x="180">9</tspan><tspan x="240">1</tspan></text>
<text class="l" transform="matrix(0.29236 0 0 0.32500 1090.95 1045.27)"><tspan x="0">9</tspan><tspan x="60">2</tspan><tspan x="122.2" font-family="Liberation Sans">0</tspan><tspan x="182.2" font-family="Liberation Sans">0</tspan><tspan x="240">2</tspan></text>
</svg>
<div class="logo"><span style="color:#4566b5">m</span><span style="color:#46ad48">o</span><span style="color:#e66aa9">t</span><span style="color:#1fa34a">o</span><span style="color:#e4502b">r</span><span style="color:#f0a51f">u</span><span style="color:#f4cc14">f</span><span class="de">.de</span></div>
</body></html>
